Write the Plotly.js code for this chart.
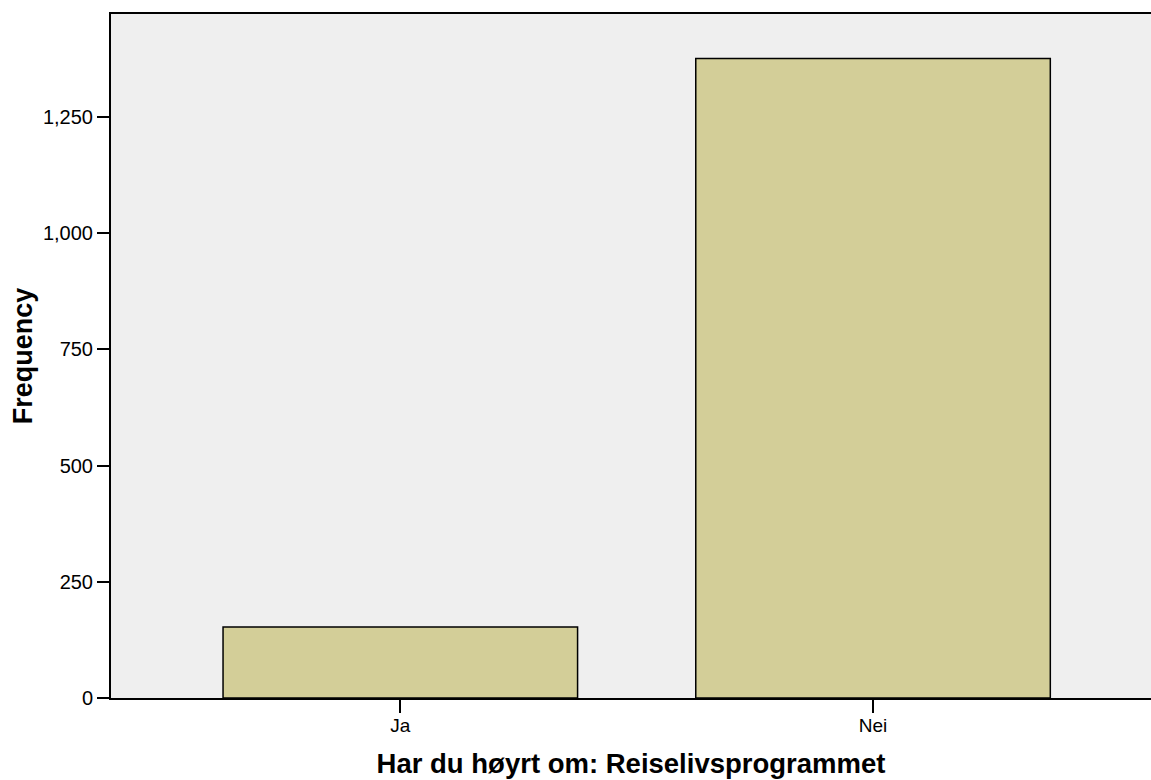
<!DOCTYPE html>
<html>
<head>
<meta charset="utf-8">
<script src="https://cdn.plot.ly/plotly-3.0.1.min.js"></script>
<style>
  html, body { margin: 0; padding: 0; background: #ffffff; overflow: hidden; }
  #chart { width: 1151px; height: 780px; }
</style>
</head>
<body>
<div id="chart"></div>
<script>
const categories = ['Ja', 'Nei'];
const frequencies = [153, 1376];
const yTickValues = [0, 250, 500, 750, 1000, 1250];

const trace = {
  type: 'bar',
  x: categories,
  y: frequencies,
  marker: { color: '#D3CE98', line: { color: '#000000', width: 1.5 } },
  hoverinfo: 'x+y'
};

const layout = {
  width: 1151,
  height: 780,
  margin: { l: 111, r: 0, t: 14, b: 82, pad: 0 },
  paper_bgcolor: '#ffffff',
  plot_bgcolor: '#EFEFEF',
  bargap: 0.25,
  showlegend: false,
  font: { family: 'Liberation Sans, Arial, sans-serif', color: '#000000', size: 20 },
  xaxis: {
    type: 'category',
    range: [-0.612, 1.588],
    showline: true, linecolor: '#000000', linewidth: 2, mirror: true,
    ticks: 'outside', ticklen: 13, tickwidth: 2, tickcolor: '#000000',
    ticklabelstandoff: -4,
    showgrid: false, zeroline: false,
    tickfont: { size: 19, family: 'Liberation Sans, Arial, sans-serif', color: '#000000' },
    title: { text: 'Har du høyrt om: Reiselivsprogrammet', standoff: 19,
             font: { size: 27.5, family: 'Liberation Sans, Arial, sans-serif', weight: 'bold', color: '#000000' } },
    automargin: false
  },
  yaxis: {
    range: [0, 1472],
    tickvals: yTickValues,
    tickformat: ',d',
    showline: true, linecolor: '#000000', linewidth: 2, mirror: false,
    ticks: 'outside', ticklen: 12, tickwidth: 2, tickcolor: '#000000',
    showgrid: false, zeroline: false,
    tickfont: { size: 20, family: 'Liberation Sans, Arial, sans-serif', color: '#000000' },
    title: { text: 'Frequency', standoff: 2,
             font: { size: 27, family: 'Liberation Sans, Arial, sans-serif', weight: 'bold', color: '#000000' } },
    automargin: false
  }
};

Plotly.newPlot('chart', [trace], layout, { displayModeBar: false, staticPlot: false });
</script>
</body>
</html>
